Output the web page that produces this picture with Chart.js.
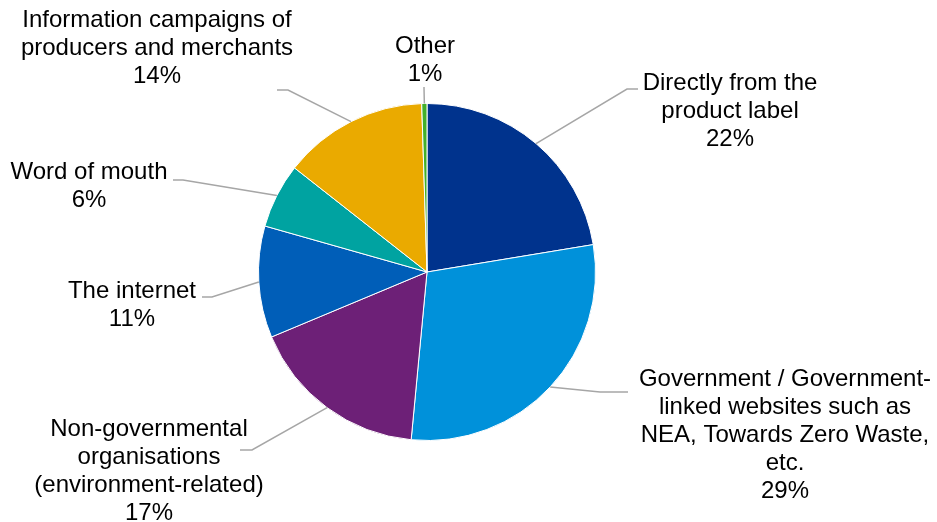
<!DOCTYPE html>
<html>
<head>
<meta charset="utf-8">
<script src="https://cdn.jsdelivr.net/npm/chart.js@4.4.1/dist/chart.umd.min.js"></script>
<style>
  html, body { margin: 0; padding: 0; background: #fff; }
  #wrap { width: 937px; height: 522px; }
</style>
</head>
<body>
<div id="wrap"><canvas id="myChart"></canvas></div>
<script>
const categories = [
  "Directly from the product label",
  "Government / Government-linked websites such as NEA, Towards Zero Waste, etc.",
  "Non-governmental organisations (environment-related)",
  "The internet",
  "Word of mouth",
  "Information campaigns of producers and merchants",
  "Other",
];
const shares = [22.4, 29.1, 17.2, 10.7, 6.2, 13.9, 0.5];
const pctLabels = ["22%", "29%", "17%", "11%", "6%", "14%", "1%"];
const colors = ["#00338D", "#0091DA", "#6D2077", "#005EB8", "#00A3A1", "#EAAA00", "#43B02A"];

// how each label is wrapped, and where it sits (text centre x, first line y, leader elbow, leader end)
const labelLines = [
  ["Directly from the", "product label"],
  ["Government / Government-", "linked websites such as", "NEA, Towards Zero Waste,", "etc."],
  ["Non-governmental", "organisations", "(environment-related)"],
  ["The internet"],
  ["Word of mouth"],
  ["Information campaigns of", "producers and merchants"],
  ["Other"],
];
const labelPos = [
  { x: 730, y: 83, elbow: [627, 89], end: [638, 89] },
  { x: 785, y: 379, elbow: [600, 392], end: [628, 392] },
  { x: 149, y: 429, elbow: [252, 450], end: [240, 450] },
  { x: 132, y: 291, elbow: [212, 297], end: [202, 297] },
  { x: 89, y: 172, elbow: [183, 180], end: [173, 180] },
  { x: 157, y: 20, elbow: [288, 90], end: [277, 90] },
  { x: 425, y: 46, elbow: [424, 88], end: [424, 87] },
];

const labelPlugin = {
  id: "outsideLabels",
  afterDatasetsDraw: (chart) => {
    const { ctx } = chart;
    const meta = chart.getDatasetMeta(0);
    ctx.save();
    meta.data.forEach((arc, i) => {
      const p = arc.getProps(["x", "y", "startAngle", "endAngle", "outerRadius"], true);
      const mid = (p.startAngle + p.endAngle) / 2;
      const sx = p.x + Math.cos(mid) * p.outerRadius;
      const sy = p.y + Math.sin(mid) * p.outerRadius;
      const pos = labelPos[i];
      ctx.strokeStyle = "#A6A6A6";
      ctx.lineWidth = 1.5;
      ctx.beginPath();
      ctx.moveTo(sx, sy);
      ctx.lineTo(pos.elbow[0], pos.elbow[1]);
      ctx.lineTo(pos.end[0], pos.end[1]);
      ctx.stroke();

      ctx.fillStyle = "#000";
      ctx.font = "24px 'Liberation Sans', Arial, sans-serif";
      ctx.textAlign = "center";
      ctx.textBaseline = "middle";
      const lines = labelLines[i].concat([pctLabels[i]]);
      lines.forEach((t, k) => {
        ctx.fillText(t, pos.x, pos.y + k * 28);
      });
    });
    ctx.restore();
  },
};

new Chart(document.getElementById("myChart"), {
  type: "pie",
  data: {
    labels: categories,
    datasets: [
      {
        data: shares,
        backgroundColor: colors,
        borderColor: "#ffffff",
        borderWidth: 1,
      },
    ],
  },
  options: {
    responsive: true,
    maintainAspectRatio: false,
    animation: false,
    layout: {
      padding: { left: 258, right: 341, top: 103, bottom: 81 },
    },
    plugins: {
      legend: { display: false },
      tooltip: { enabled: false },
    },
  },
  plugins: [labelPlugin],
});
</script>
</body>
</html>
